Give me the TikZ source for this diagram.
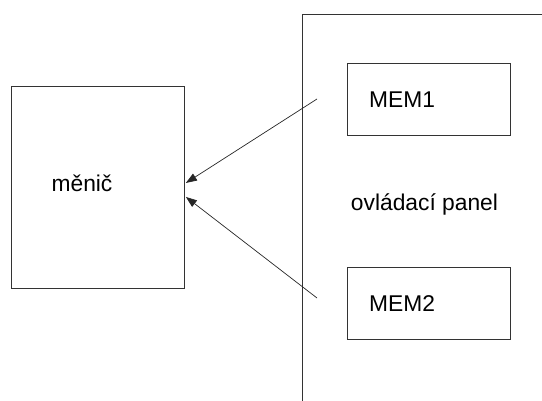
\documentclass[tikz,border=0pt]{standalone}
\usepackage{fontspec}
\setmainfont{Liberation Sans}
\usetikzlibrary{arrows.meta,calc}
\begin{document}
\begin{tikzpicture}[x=1pt,y=-1pt,
  box/.style={draw=black!80,line width=0.9pt,minimum width=#1,inner sep=0pt,anchor=north west},
  lbl/.style={font=\fontsize{22.8}{27}\selectfont,inner sep=0pt},
  feed/.style={draw=black!85,line width=0.7pt,-{Triangle[length=11pt,width=8pt]}}]
  \useasboundingbox (0,0) rectangle (542,401);
  % converter block
  \node[box=173pt,minimum height=202pt] (menic) at (11,86) {};
  \node[lbl] (menictxt) at (82,183) {měnič};
  % control panel outline, running off the page
  \draw[draw=black!80,line width=0.9pt] (542,14) -- (302,14) -- (302,401);
  \node[lbl] (paneltxt) at (424.5,204) {ovládací panel};
  % memory blocks
  \node[box=163pt,minimum height=72pt] (mem1) at (347,63) {};
  \node[lbl,anchor=west] (mem1txt) at (369,99.5) {MEM1};
  \node[box=163pt,minimum height=72pt] (mem2) at (347,267) {};
  \node[lbl,anchor=west] (mem2txt) at (369,303.5) {MEM2};
  % signal lines into the converter
  \coordinate (s1) at (317,99);
  \coordinate (s2) at (317,298);
  \draw[feed] (s1) -- ($(menic.east)+(1,-4.5)$);
  \draw[feed] (s2) -- ($(menic.east)+(1,9.5)$);
\end{tikzpicture}
\end{document}
